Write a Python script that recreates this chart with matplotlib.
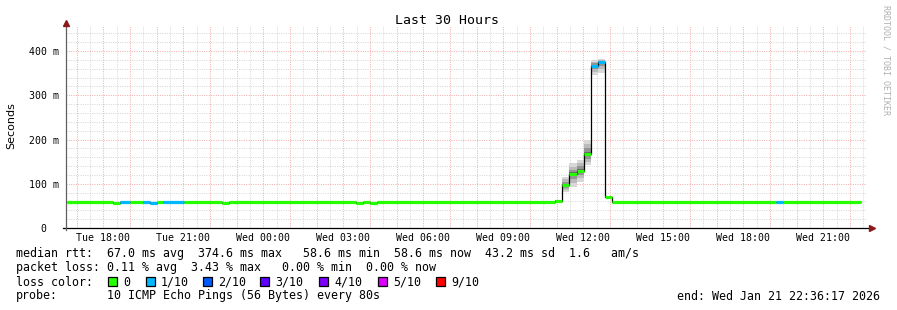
import numpy as np
import matplotlib.pyplot as plt
from matplotlib.patches import Rectangle

W, H = 897, 310
MONO = 'DejaVu Sans Mono'

# time in hours since Tue 00:00; each segment lasts until the next start
seg_start = [16.62, 18.37, 18.63, 19.00, 19.50, 19.76, 20.03, 20.25, 21.03, 22.46, 22.70,
             27.49, 27.75, 28.01, 28.27, 34.95, 35.21, 35.48, 35.76, 36.03, 36.30, 36.56,
             36.83, 37.09, 43.24, 43.50]
seg_end = 46.43
median_ms = [58.6, 56.5, 58.6, 58.6, 58.6, 56.5, 58.6, 58.6, 58.6, 56.5, 58.6,
             56.5, 58.6, 56.5, 58.6, 62.0, 97.0, 122.0, 129.5, 167.0, 367.0, 375.0,
             70.0, 58.0, 58.0, 58.0]
loss = [0, 0, 1, 0, 1, 1, 0, 1, 0, 0, 0,
        0, 0, 0, 0, 0, 0, 0, 0, 0, 1, 1,
        0, 0, 1, 0]
smoke_lo = [58.6, 56.5, 58.6, 58.6, 58.6, 56.5, 58.6, 58.6, 58.6, 56.5, 58.6,
            56.5, 58.6, 56.5, 58.6, 60.0, 82.0, 93.0, 105.0, 142.0, 346.0, 351.0,
            68.0, 58.0, 58.0, 58.0]
smoke_hi = [58.6, 56.5, 58.6, 58.6, 58.6, 56.5, 58.6, 58.6, 58.6, 56.5, 58.6,
            56.5, 58.6, 56.5, 58.6, 63.0, 116.0, 146.0, 154.0, 199.0, 380.0, 381.0,
            72.0, 58.0, 58.0, 58.0]

loss_levels = [0, 1, 2, 3, 4, 5, 9]
loss_names = ['0', '1/10', '2/10', '3/10', '4/10', '5/10', '9/10']
loss_colors = ['#26ff00', '#00b8ff', '#0059ff', '#5e00ff', '#7e00ff', '#dd00ff', '#ff0000']

xtick_hours = [18, 21, 24, 27, 30, 33, 36, 39, 42, 45]
xtick_labels = ['Tue 18:00', 'Tue 21:00', 'Wed 00:00', 'Wed 03:00', 'Wed 06:00',
                'Wed 09:00', 'Wed 12:00', 'Wed 15:00', 'Wed 18:00', 'Wed 21:00']
ytick_vals = [0, 100, 200, 300, 400]
ytick_labels = ['0  ', '100 m', '200 m', '300 m', '400 m']

stats_line1 = 'median rtt:  67.0 ms avg  374.6 ms max   58.6 ms min  58.6 ms now  43.2 ms sd  1.6   am/s'
stats_line2 = 'packet loss: 0.11 % avg  3.43 % max   0.00 % min  0.00 % now'
probe_text = '10 ICMP Echo Pings (56 Bytes) every 80s'
end_text = 'end: Wed Jan 21 22:36:17 2026'

x0, x1 = 16.6, 46.6
ymax = 456.5

fig = plt.figure(figsize=(W / 100, H / 100), dpi=100, facecolor='white')
ax = fig.add_axes([66 / W, (H - 228) / H, 800 / W, 202 / H])
ax.set_xlim(x0, x1)
ax.set_ylim(0, ymax)
for s in ax.spines.values():
    s.set_visible(False)

## grid (rrdtool style dotted)
dots = (0, (1, 1.4))
major_c, minor_c = '#f4a8a8', '#d4d4d4'
for h in np.arange(17, 47, 1.0):
    ax.axvline(h, color=major_c, lw=0.7, ls=dots, zorder=0)
for h in np.arange(17.5, 46.6, 1.0):
    ax.axvline(h, color=minor_c, lw=0.7, ls=dots, zorder=0)
for v in np.arange(20, ymax, 20):
    c = major_c if v % 100 == 0 else minor_c
    ax.axhline(v, color=c, lw=0.7, ls=dots, zorder=0)

## smoke
edges = seg_start + [seg_end]
shades = [(1.0, '#d8d8d8'), (0.7, '#bababa'), (0.4, '#949494'), (0.15, '#666666')]
for i in range(len(seg_start)):
    lo, hi, m = smoke_lo[i], smoke_hi[i], median_ms[i]
    if hi - lo < 1:
        continue
    for f, c in shades:
        ax.fill_between([edges[i], edges[i + 1]], m - f * (m - lo), m + f * (hi - m),
                        color=c, lw=0, zorder=1)

## median line: black steps, then loss coloured segments
ax.stairs(median_ms, edges, baseline=None, color='black', lw=0.9, zorder=2)
cols = [loss_colors[loss_levels.index(l)] for l in loss]
ax.hlines(median_ms, seg_start, edges[1:], colors=cols, lw=2.3, zorder=3, capstyle='butt')

## axes with arrows
ax.plot([-0.004, 1.004], [0, 0], transform=ax.transAxes, color='black', lw=0.9, clip_on=False, zorder=4)
ax.plot(1.007, 0.0, marker='>', ms=4.5, color='#8b1a1a', transform=ax.transAxes, clip_on=False, zorder=5)
ax.plot([0, 0], [-0.012, 1.005], transform=ax.transAxes, color='#606060', lw=0.9, clip_on=False, zorder=4)
ax.plot(0.0, 1.013, marker='^', ms=4.5, color='#8b1a1a', transform=ax.transAxes, clip_on=False, zorder=5)

ax.set_xticks(xtick_hours)
ax.set_xticklabels(xtick_labels, fontfamily=MONO, fontsize=7.1)
ax.set_yticks(ytick_vals)
ax.set_yticklabels(ytick_labels, fontfamily=MONO, fontsize=7.1)
ax.tick_params(axis='x', length=0, pad=3.5)
ax.tick_params(axis='y', length=0, pad=5)

## texts
fig.text(447 / W, 1 - 20 / H, 'Last 30 Hours', family=MONO, fontsize=9.5, ha='center', va='center')
fig.text(11 / W, 1 - 126 / H, 'Seconds', fontsize=8, rotation=90, ha='center', va='center')
fig.text(886 / W, 1 - 60 / H, 'RRDTOOL / TOBI OETIKER', family=MONO, fontsize=6,
         rotation=270, ha='center', va='center', color='#b0b0b0')

fs = 8.4
fig.text(16 / W, 1 - 254 / H, stats_line1, family=MONO, fontsize=fs, va='center')
fig.text(16 / W, 1 - 268 / H, stats_line2, family=MONO, fontsize=fs, va='center')
fig.text(16 / W, 1 - 282 / H, 'loss color:', family=MONO, fontsize=fs, va='center')
box_x = [108, 146, 203, 260, 319, 378, 436]
for bx, name, c in zip(box_x, loss_names, loss_colors):
    fig.add_artist(Rectangle((bx / W, 1 - 286 / H), 9 / W, 9 / H, facecolor=c,
                             edgecolor='black', lw=0.9, transform=fig.transFigure))
    fig.text((bx + 15) / W, 1 - 282 / H, name, family=MONO, fontsize=fs, va='center')
fig.text(16 / W, 1 - 296 / H, 'probe:', family=MONO, fontsize=fs, va='center')
fig.text(107 / W, 1 - 296 / H, probe_text, family=MONO, fontsize=fs, va='center')
fig.text(880 / W, 1 - 296 / H, end_text, family=MONO, fontsize=fs, va='center', ha='right')

plt.savefig('out.png', dpi=100, facecolor='white')
